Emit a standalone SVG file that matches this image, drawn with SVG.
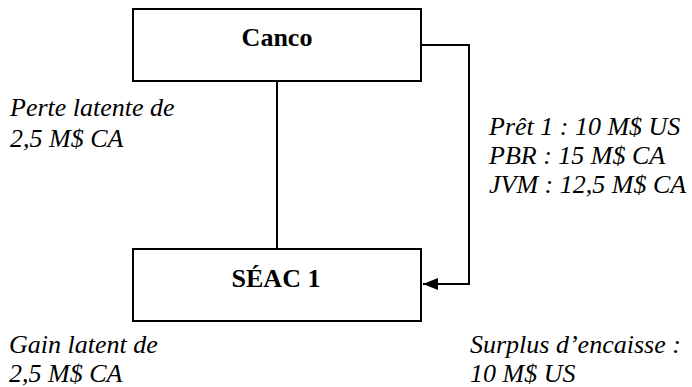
<svg xmlns="http://www.w3.org/2000/svg" width="692" height="387" viewBox="0 0 692 387">
  <style>
    .box { fill: #ffffff; stroke: #000000; stroke-width: 2; }
    .wire { fill: none; stroke: #000000; stroke-width: 2; }
    .title { font-size: 26px; font-weight: bold; text-anchor: middle; fill: #000000; }
    .note { font-size: 26px; font-style: italic; fill: #000000; }
  </style>
  <defs>
    <marker id="arrowhead" markerWidth="16" markerHeight="12" refX="15" refY="6" orient="auto" markerUnits="userSpaceOnUse">
      <path d="M0,0 L15,6 L0,12 Z" fill="#000000"/>
    </marker>
  </defs>

  <rect width="692" height="387" fill="#ffffff"/>

  <!-- connectors -->
  <g id="connectors">
    <line class="wire" x1="277" y1="81" x2="277" y2="249"/>
    <path class="wire" d="M421,45 H469 V284 H423" marker-end="url(#arrowhead)"/>
  </g>

  <g font-family="Liberation Serif, Times New Roman, serif">
    <!-- parent company -->
    <g id="canco">
      <rect class="box" x="133" y="9" width="288" height="72"/>
      <text class="title" x="277" y="46">Canco</text>
    </g>

    <!-- subsidiary -->
    <g id="seac1">
      <rect class="box" x="133" y="249" width="288" height="72"/>
      <text class="title" x="276" y="287">SÉAC 1</text>
    </g>

    <!-- annotations -->
    <g id="perte">
      <text class="note" x="10" y="116">Perte latente de</text>
      <text class="note" x="10" y="147">2,5 M$ CA</text>
    </g>
    <g id="pret">
      <text class="note" x="489" y="135">Prêt 1 : 10 M$ US</text>
      <text class="note" x="489" y="164">PBR : 15 M$ CA</text>
      <text class="note" x="489" y="193">JVM : 12,5 M$ CA</text>
    </g>
    <g id="gain">
      <text class="note" x="9" y="353">Gain latent de</text>
      <text class="note" x="9" y="382">2,5 M$ CA</text>
    </g>
    <g id="surplus">
      <text class="note" x="470" y="353">Surplus d’encaisse :</text>
      <text class="note" x="470" y="382">10 M$ US</text>
    </g>
  </g>
</svg>
